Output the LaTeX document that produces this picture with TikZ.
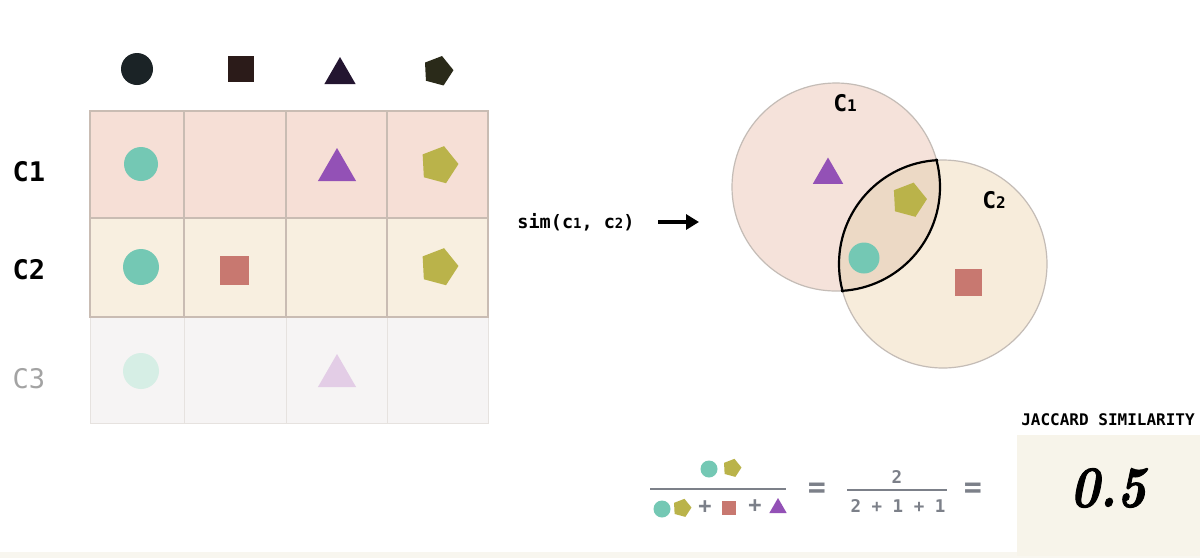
\documentclass[tikz,border=0pt]{standalone}
\usepackage{fontspec}
\setmonofont{DejaVu Sans Mono}
\newfontface\jacfont{lmroman10-bolditalic.otf}[FakeBold=1.8]
\usetikzlibrary{shapes.geometric,arrows.meta}
\definecolor{tealc}{HTML}{74C8B4}
\definecolor{purplec}{HTML}{9351B6}
\definecolor{olivec}{HTML}{BAB34A}
\definecolor{squarec}{HTML}{C87870}
\definecolor{rowa}{HTML}{F6DFD6}
\definecolor{rowb}{HTML}{F8EFE0}
\definecolor{rowc}{HTML}{F6F4F4}
\definecolor{gridc}{HTML}{C9BCB3}
\definecolor{gridl}{HTML}{E6E2DF}
\definecolor{cafill}{HTML}{F5E2DA}
\definecolor{cbfill}{HTML}{F7ECDB}
\definecolor{lensc}{HTML}{ECD9C5}
\definecolor{venngray}{HTML}{C4BCB6}
\definecolor{eqgray}{HTML}{7C8089}
\definecolor{jacc}{HTML}{F7F4EA}
\definecolor{stripc}{HTML}{F8F6EF}
\definecolor{paleteal}{HTML}{D6EEE5}
\definecolor{palepurple}{HTML}{E3CDE6}
\definecolor{hdcirc}{HTML}{1B2326}
\definecolor{hdsq}{HTML}{2B1B19}
\definecolor{hdtri}{HTML}{231530}
\definecolor{hdpent}{HTML}{2A2A19}
\definecolor{lblgray}{HTML}{A3A3A3}
\tikzset{
  shpcirc/.style={circle, inner sep=0pt, minimum size=#1},
  shpsq/.style={rectangle, inner sep=0pt, minimum size=#1},
  shptri/.style={regular polygon, regular polygon sides=3, inner sep=0pt, minimum size=#1},
  shppent/.style={regular polygon, regular polygon sides=5, inner sep=0pt, minimum size=#1, shape border rotate=-15},
  rowlbl/.style={font=\ttfamily\bfseries\fontsize{27}{27}\selectfont, inner sep=0pt},
  vennlbl/.style={font=\ttfamily\bfseries\fontsize{23}{23}\selectfont, inner sep=0pt},
  eqtxt/.style={font=\ttfamily\bfseries\fontsize{17.5}{17.5}\selectfont, text=eqgray, inner sep=0pt},
  eqplus/.style={font=\ttfamily\bfseries\fontsize{22}{22}\selectfont, text=eqgray, inner sep=0pt},
  eqsign/.style={font=\ttfamily\bfseries\fontsize{30}{30}\selectfont, text=eqgray, inner sep=0pt},
  vennline/.style={draw=venngray, line width=1.2pt},
  lensline/.style={draw=black, line width=2.2pt},
  fracline/.style={draw=eqgray, line width=1.6pt},
}
\begin{document}
\begin{tikzpicture}[x=1pt,y=-1pt]
\useasboundingbox (0,0) rectangle (1200,558);
\fill[white] (0,0) rectangle (1200,558);
\fill[stripc] (0,552) rectangle (1200,558);

% header symbols
\node[shpcirc=32pt, fill=hdcirc] (hcirc) at (137,69) {};
\node[shpsq=26pt, fill=hdsq] (hsq) at (241,69) {};
\node[shptri=36pt, fill=hdtri] (htri) at (340,75) {};
\node[shppent=31pt, fill=hdpent] (hpent) at (438,71) {};

% table rows
\fill[rowa] (90,111) rectangle (488,218);
\fill[rowb] (90,218) rectangle (488,317);
\fill[rowc] (90,317) rectangle (488,423);
\draw[gridl, line width=1pt] (90,317) rectangle (488,423);
\foreach \xx in {184,286,387} \draw[gridl, line width=1pt] (\xx,317) -- (\xx,423);
\draw[gridc, line width=1.2pt] (90,111) rectangle (488,317);
\draw[gridc, line width=1.2pt] (90,218) -- (488,218);
\foreach \xx in {184,286,387} \draw[gridc, line width=1.2pt] (\xx,111) -- (\xx,317);

% row labels
\node[rowlbl] (la) at (29,172) {C1};
\node[rowlbl] (lb) at (29,270) {C2};
\node[rowlbl, font=\ttfamily\fontsize{27}{27}\selectfont, text=lblgray] (lc) at (29,379) {C3};

% row 1
\node[shpcirc=34pt, fill=tealc] (acirc) at (141,164) {};
\node[shptri=44pt, fill=purplec] (atri) at (337,170) {};
\node[shppent=39pt, fill=olivec] (apent) at (439,165) {};
% row 2
\node[shpcirc=36pt, fill=tealc] (bcirc) at (141,267) {};
\node[shpsq=29pt, fill=squarec] (bsq) at (234,270) {};
\node[shppent=39pt, fill=olivec] (bpent) at (439,267) {};
% row 3
\node[shpcirc=36pt, fill=paleteal] (ccirc) at (141,371) {};
\node[shptri=44pt, fill=palepurple] (ctri) at (337,376) {};

% sim text and arrow
\node[font=\ttfamily\bfseries\fontsize{18.5}{18.5}\selectfont, inner sep=0pt] (sim) at (576,222)
  {sim(c{\fontsize{14}{14}\selectfont 1}, c{\fontsize{14}{14}\selectfont 2})};
\coordinate (arrs) at (658,222);
\coordinate (arre) at (699,222);
\draw[line width=4.5pt, -{Triangle[length=13pt,width=15pt]}] (arrs) -- (arre);

% Venn
\coordinate (ca) at (836,187);
\coordinate (cb) at (943,264);
\fill[cafill] (ca) circle[radius=104pt];
\fill[cbfill] (cb) circle[radius=104pt];
\begin{scope}
  \clip (ca) circle[radius=104pt];
  \fill[lensc] (cb) circle[radius=104pt];
\end{scope}
\draw[vennline] (ca) circle[radius=104pt];
\draw[vennline] (cb) circle[radius=104pt];
\begin{scope}
  \clip (ca) circle[radius=105.5pt];
  \draw[lensline] (cb) circle[radius=104pt];
\end{scope}
\begin{scope}
  \clip (cb) circle[radius=105.5pt];
  \draw[lensline] (ca) circle[radius=104pt];
\end{scope}
\node[vennlbl] (vla) at (845,103) {C{\fontsize{16}{16}\selectfont 1}};
\node[vennlbl] (vlb) at (994,200) {C{\fontsize{16}{16}\selectfont 2}};
\node[shptri=35pt, fill=purplec] (vtri) at (828,175) {};
\node[shpcirc=31pt, fill=tealc] (vcirc) at (864,258) {};
\node[shppent=36pt, fill=olivec] (vpent) at (909,200) {};
\node[shpsq=27pt, fill=squarec] (vsq) at (968,282) {};

% formula
\node[shpcirc=17pt, fill=tealc] (ftc) at (709,469) {};
\node[shppent=19pt, fill=olivec] (ftp) at (732,468) {};
\coordinate (fla) at (650,489);
\coordinate (flb) at (786,489);
\draw[fracline] (fla) -- (flb);
\node[shpcirc=17pt, fill=tealc] (fbc) at (662,509) {};
\node[shppent=19pt, fill=olivec] (fbp) at (682,508) {};
\node[eqplus] (fplus1) at (705,507) {+};
\node[shpsq=14pt, fill=squarec] (fbs) at (729,508) {};
\node[eqplus] (fplus2) at (755,506) {+};
\node[shptri=20pt, fill=purplec] (fbt) at (778,508) {};
\node[eqsign] (eqa) at (817,490) {=};
\node[eqtxt] (ntwo) at (897,477) {2};
\coordinate (flc) at (847,490);
\coordinate (fld) at (947,490);
\draw[fracline] (flc) -- (fld);
\node[eqtxt] (dsum) at (898,506) {2 + 1 + 1};
\node[eqsign] (eqb) at (973,490) {=};

% result box
\fill[jacc] (1017,435) rectangle (1200,556);
\node[font=\ttfamily\bfseries\fontsize{16}{16}\selectfont, inner sep=0pt] (jlbl) at (1108,420) {JACCARD SIMILARITY};
\node[inner sep=0pt] (jval) at (1108,488) {\scalebox{0.85}[1]{\jacfont\fontsize{58}{58}\selectfont 0.5}};
\end{tikzpicture}
\end{document}
